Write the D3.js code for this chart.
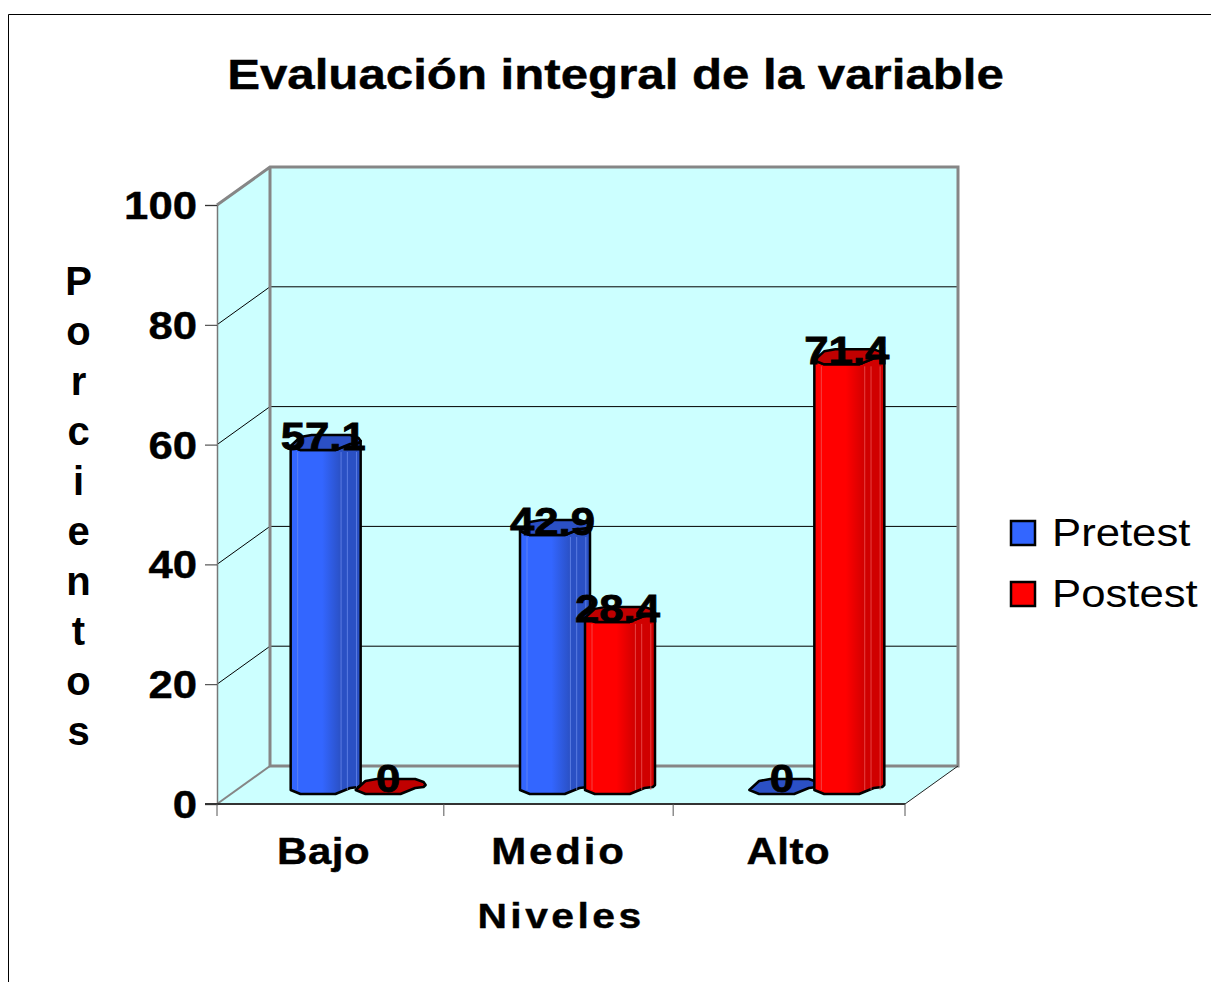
<!DOCTYPE html>
<html>
<head>
<meta charset="utf-8">
<script src="https://cdn.jsdelivr.net/npm/d3@7"></script>
<style>
  body { margin: 0; background: #fff; }
  text { font-family: "Liberation Sans", Arial, sans-serif; fill: #000; }
</style>
</head>
<body>
<script>
const categories = ['Bajo', 'Medio', 'Alto'];
const seriesNames = ['Pretest', 'Postest'];
const pretest = [57.1, 42.9, 0];
const postest = [0, 28.4, 71.4];
const yTicks = [0, 20, 40, 60, 80, 100];
const yTitle = 'Porcientos';

const seriesValues = [pretest, postest];
const colors = {
  Pretest: { light: '#3366ff', dark: '#2a50c4', top: '#2b50c5', strip: '#6f8ff0' },
  Postest: { light: '#ff0000', dark: '#d00000', top: '#c00000', strip: '#f06060' }
};

// text in the original is stretched sideways
const sx = 1.15;
// depth of the 3d box
const depthX = 53, depthY = -38;

const svg = d3.select('body').append('svg').attr('width', 1211).attr('height', 982);

const x = d3.scaleBand().domain(categories).range([217, 905]);
const y = d3.scaleLinear().domain([0, 100]).range([804, 205]);
const xSeries = d3.scalePoint().domain(seriesNames).range([-32, 33]);

const barWidth = 70, barDx = 26, barDy = -10;
const line = d3.line();

function addText(parent, str, px, py, size, weight, anchor) {
  return parent.append('text')
    .attr('transform', `translate(${px},${py}) scale(${sx},1)`)
    .attr('font-size', size)
    .attr('font-weight', weight)
    .attr('text-anchor', anchor)
    .attr('stroke', weight === 'bold' ? '#000' : 'none')
    .attr('stroke-width', weight === 'bold' ? 0.4 : 0)
    .text(str);
}

// outer frame
svg.append('path')
  .attr('d', 'M8.5,982V14.5H1211')
  .attr('fill', 'none').attr('stroke', '#000').attr('stroke-width', 1);

addText(svg, 'Evaluación integral de la variable', 615.5, 89, 42.8, 'bold', 'middle');

// box walls
const x0 = x.range()[0], x1 = x.range()[1];
const y0 = y(0), y1 = y(100);
const wallFill = '#ccffff', wallStroke = '#868686';

svg.append('path')
  .attr('d', line([[x0, y0], [x0 + depthX, y0 + depthY], [x1 + depthX, y0 + depthY], [x1, y0]]) + 'Z')
  .attr('fill', wallFill);
svg.append('path')
  .attr('d', line([[x0, y0], [x0, y1], [x0 + depthX, y1 + depthY], [x0 + depthX, y0 + depthY]]) + 'Z')
  .attr('fill', wallFill);
svg.append('rect')
  .attr('x', x0 + depthX).attr('y', y1 + depthY)
  .attr('width', x1 - x0).attr('height', y0 - y1)
  .attr('fill', wallFill);

// gridlines on side wall and back wall
svg.selectAll('path.grid')
  .data(yTicks.filter(d => d > 0 && d < 100))
  .join('path')
  .attr('class', 'grid')
  .attr('d', d => line([[x0, y(d)], [x0 + depthX, y(d) + depthY], [x1 + depthX, y(d) + depthY]]))
  .attr('fill', 'none').attr('stroke', '#000').attr('stroke-width', 1);

// gray edges of the box
svg.append('path')
  .attr('d', line([[x0, y1], [x0 + depthX, y1 + depthY], [x1 + depthX, y1 + depthY], [x1 + depthX, y0 + depthY], [x0 + depthX, y0 + depthY], [x0 + depthX, y1 + depthY]]))
  .attr('fill', 'none').attr('stroke', wallStroke).attr('stroke-width', 3);
svg.append('path')
  .attr('d', line([[x0, y0], [x0 + depthX, y0 + depthY]]))
  .attr('fill', 'none').attr('stroke', wallStroke).attr('stroke-width', 2);
svg.append('path')
  .attr('d', line([[x1, y0], [x1 + depthX, y0 + depthY]]))
  .attr('fill', 'none').attr('stroke', '#222').attr('stroke-width', 1);

// axes
const axisY = d3.axisLeft(y).tickValues(yTicks).tickSize(12).tickFormat('');
svg.append('g').attr('transform', `translate(${x0},0)`).call(axisY)
  .call(g => g.selectAll('path').attr('stroke', '#777').attr('stroke-width', 1.5))
  .call(g => g.selectAll('line').attr('stroke', '#333'));

svg.append('path')
  .attr('d', line([[x0 - 12, y0], [x1, y0]]))
  .attr('stroke', '#333').attr('stroke-width', 2).attr('fill', 'none');
// inner ticks sit 2-3px left of the band edge in the original
const xTickPos = [...categories.map((c, i) => i === 0 ? x(c) : x(c) - 2.5), x1];
svg.selectAll('path.xtick')
  .data(xTickPos)
  .join('path')
  .attr('class', 'xtick')
  .attr('d', d => line([[d, y0], [d, y0 + 12]]))
  .attr('stroke', '#555').attr('stroke-width', 1);

yTicks.forEach(d => addText(svg, d, 197, y(d) + 14, 38, 'bold', 'end'));

// category labels, first one sits a little left of its band centre in the original
categories.forEach((c, i) => {
  const nudge = i === 0 ? -8 : -2;
  addText(svg, c, x(c) + x.bandwidth() / 2 + nudge, 864, 36.5, 'bold', 'middle')
    .attr('letter-spacing', c === 'Medio' ? 2.5 : 0.5);
});
addText(svg, 'Niveles', 561, 928, 35.5, 'bold', 'middle').attr('letter-spacing', 3);

yTitle.split('').forEach((ch, i) => {
  svg.append('text')
    .attr('x', 78.5).attr('y', 295 + i * 50)
    .attr('font-size', 40).attr('font-weight', 'bold')
    .attr('text-anchor', 'middle')
    .text(ch);
});

// gradients for the cylinders
const defs = svg.append('defs');
seriesNames.forEach((name, i) => {
  const c = colors[name];
  const g = defs.append('linearGradient').attr('id', 'grad' + i);
  [[0, c.light], [0.45, c.light], [0.72, c.dark], [1, c.dark]].forEach(s => {
    g.append('stop').attr('offset', s[0]).attr('stop-color', s[1]);
  });
});

// outline of a rough cylinder, points are fractions of bar width and px offsets
const frontCurve = [[0, -4], [0.14, 0], [0.64, 0], [0.85, -6], [0.97, -7], [1, -9]];
const backCurve = [[1, -9], [0.97, -12], [0.85, -15], [0.3, -15], [0.14, -13], [0, -4]];
const stripFracs = [0.1, 0.72, 0.81, 0.94];

const shape = (left, base, pts) => pts.map(p => [left + p[0] * barWidth, base + p[1]]);

const bars = [];
categories.forEach((c, ci) => {
  seriesNames.forEach((name, si) => {
    const center = x(c) + x.bandwidth() / 2 + barDx + xSeries(name);
    bars.push({ series: name, si, value: seriesValues[si][ci], center });
  });
});

svg.selectAll('g.bar')
  .data(bars)
  .join('g')
  .attr('class', 'bar')
  .each(function (d) {
    const g = d3.select(this);
    const left = d.center - barWidth / 2;
    const base = y(0) + barDy;
    // tall bars stand about 2px higher than the scale gives
    const topY = y(d.value) + barDy - (d.value > 0 ? 2 : 0);
    const c = colors[d.series];
    if (d.value > 0) {
      const outline = shape(left, base, frontCurve)
        .concat(shape(left, topY, frontCurve).reverse());
      g.append('path')
        .attr('d', line(outline) + 'Z')
        .attr('fill', `url(#grad${d.si})`)
        .attr('stroke', '#000').attr('stroke-width', 2.5).attr('stroke-linejoin', 'round');
      g.selectAll('path.strip')
        .data(stripFracs)
        .join('path')
        .attr('class', 'strip')
        .attr('d', f => line([[left + f * barWidth, topY + 2], [left + f * barWidth, base - 4]]))
        .attr('stroke', c.strip).attr('stroke-opacity', 0.7).attr('stroke-width', 1).attr('fill', 'none');
    }
    g.append('path')
      .attr('d', line(shape(left, topY, backCurve.concat(frontCurve.slice(1)))) + 'Z')
      .attr('fill', c.top)
      .attr('stroke', '#000').attr('stroke-width', 2.5).attr('stroke-linejoin', 'round');
  });

// data labels on top of all the bars
bars.forEach(d => {
  addText(svg, d.value, d.center - 2.5, y(d.value) + barDy - 2, 38, 'bold', 'middle')
    .attr('stroke-width', 0.8);
});

// legend
const legendY = d3.scalePoint().domain(seriesNames).range([533, 594]);
seriesNames.forEach(name => {
  svg.append('rect')
    .attr('x', 1011).attr('y', legendY(name) - 12)
    .attr('width', 24).attr('height', 24)
    .attr('fill', colors[name].light)
    .attr('stroke', '#000').attr('stroke-width', 2.5);
  addText(svg, name, 1052, legendY(name) + 13, 38, 'normal', 'start');
});
</script>
</body>
</html>
